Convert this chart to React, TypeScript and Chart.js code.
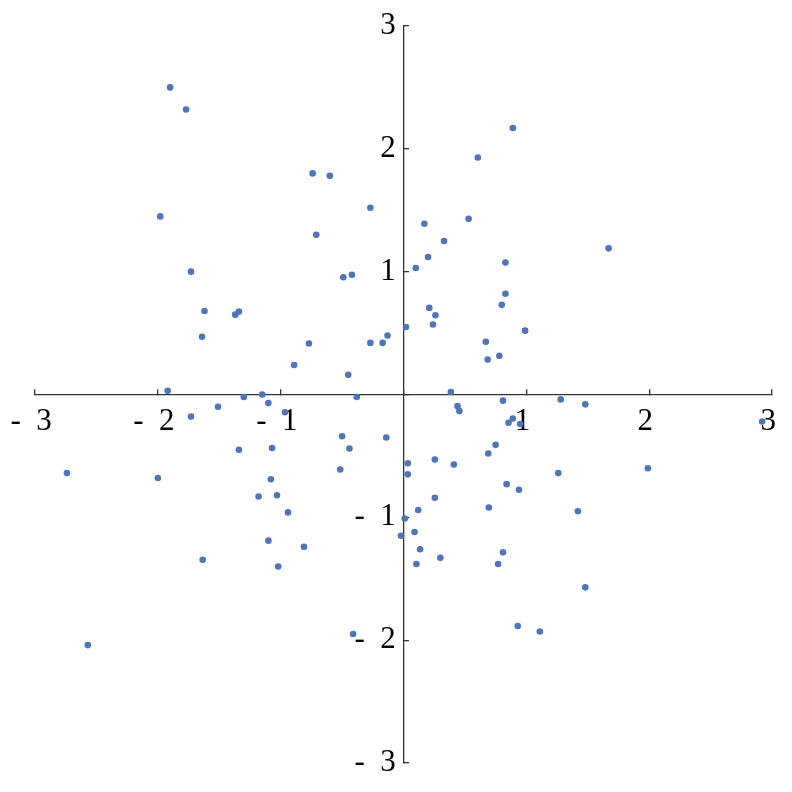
import React, { useRef, useEffect } from 'react';
import Chart from 'chart.js/auto';

// 점 좌표
const xValues = [
  -1.90, -1.77, -0.74, -0.60, -0.27, -1.98, -0.71, -1.73, -0.49, -0.42,
  -1.62, -1.37, -1.34, -1.64, -0.77, -0.27, -0.17, -0.13, -0.89, -0.45,
  -1.92, -1.30, -1.15, -0.38, -1.10, -1.51, -1.73, -0.965, -0.50, -0.14,
  -1.34, -1.07, -0.44, -0.515, -2.74, -2.00, -1.08, -1.18, -1.03, -0.94,
  -0.02, -1.10, -0.81, -1.635, -1.02, -0.41, -2.57, 0.89, 0.605, 0.53,
  0.17, 0.33, 0.20, 1.67, 0.10, 0.83, 0.83, 0.80, 0.21, 0.26,
  0.24, 0.02, 0.99, 0.67, 0.685, 0.78, 0.385, 0.81, 1.28, 1.48,
  0.44, 0.455, 0.89, 0.855, 0.95, 2.92, 0.75, 0.69, 0.035, 0.255,
  0.41, 1.99, 0.035, 1.26, 0.84, 0.94, 0.255, 1.42, 0.695, 0.12,
  0.01, 0.09, 0.135, 0.81, 0.30, 0.105, 0.77, 1.48, 0.93, 1.11,
];

const yValues = [
  2.50, 2.32, 1.80, 1.78, 1.52, 1.45, 1.30, 1.00, 0.955, 0.975,
  0.68, 0.65, 0.675, 0.47, 0.415, 0.42, 0.42, 0.48, 0.24, 0.16,
  0.03, -0.02, 0.0, -0.02, -0.07, -0.10, -0.18, -0.145, -0.34, -0.35,
  -0.45, -0.435, -0.44, -0.61, -0.64, -0.68, -0.69, -0.83, -0.82, -0.96,
  -1.15, -1.19, -1.24, -1.345, -1.40, -1.95, -2.04, 2.17, 1.93, 1.43,
  1.39, 1.25, 1.12, 1.19, 1.03, 1.075, 0.82, 0.73, 0.705, 0.645,
  0.57, 0.55, 0.52, 0.43, 0.285, 0.315, 0.02, -0.05, -0.04, -0.08,
  -0.095, -0.135, -0.195, -0.23, -0.24, -0.22, -0.41, -0.48, -0.56, -0.53,
  -0.57, -0.60, -0.65, -0.64, -0.73, -0.775, -0.84, -0.95, -0.92, -0.94,
  -1.01, -1.12, -1.26, -1.285, -1.33, -1.38, -1.38, -1.57, -1.885, -1.93,
];

const axisMin = -3;
const axisMax = 3;

// "- 3" 형식 (0은 표시 안 함), 뒤에 공백 하나 붙여서 살짝 왼쪽으로
const formatTick = (v: number) => (v === 0 ? '' : v < 0 ? `-  ${Math.abs(v)} ` : `${v} `);

const App: React.FC = () => {
  const canvasRef = useRef<HTMLCanvasElement>(null);
  const chartRef = useRef<Chart | null>(null);

  useEffect(() => {
    if (!canvasRef.current) return;
    if (chartRef.current) chartRef.current.destroy();

    const ctx = canvasRef.current.getContext('2d')!;
    const points = xValues.map((x, i) => ({ x, y: yValues[i] }));

    // 축이 레이아웃 공간을 차지하지 않게
    const noSpace = (scale: any) => {
      if (scale.isHorizontal()) scale.height = 0;
      else scale.width = 0;
      scale.paddingLeft = 0;
      scale.paddingRight = 0;
      scale.paddingTop = 0;
      scale.paddingBottom = 0;
    };

    const axisCommon = {
      type: 'linear' as const,
      min: axisMin,
      max: axisMax,
      afterFit: noSpace,
      border: { display: true, color: '#333333', width: 1.3 },
      grid: {
        drawOnChartArea: false,
        drawTicks: true,
        tickLength: -6,
        color: '#333333',
        lineWidth: 1.3,
      },
    };

    chartRef.current = new Chart(ctx, {
      type: 'scatter',
      data: {
        datasets: [
          {
            data: points,
            backgroundColor: '#4d75b8',
            borderColor: '#4d75b8',
            borderWidth: 0,
            pointRadius: 3.3,
          },
        ],
      },
      options: {
        animation: false,
        responsive: true,
        maintainAspectRatio: false,
        layout: { padding: { left: 35, right: 20, top: 26, bottom: 29 } },
        plugins: {
          legend: { display: false },
          tooltip: { enabled: false },
        },
        scales: {
          x: {
            ...axisCommon,
            position: { y: 0 },
            ticks: {
              stepSize: 1,
              padding: 15,
              color: '#000000',
              font: { family: 'Liberation Serif', size: 31 },
              callback: (v: any) => formatTick(Number(v)),
            },
          },
          y: {
            ...axisCommon,
            position: { x: 0 },
            ticks: {
              stepSize: 1,
              color: '#000000',
              font: { family: 'Liberation Serif', size: 31 },
              callback: (v: any) => formatTick(Number(v)),
            },
          },
        },
      },
    });

    return () => {
      if (chartRef.current) {
        chartRef.current.destroy();
        chartRef.current = null;
      }
    };
  }, []);

  return (
    <div style={{ position: 'absolute', left: 0, top: 0, width: '792px', height: '792px', background: '#ffffff' }}>
      <canvas ref={canvasRef} />
    </div>
  );
};

export default App;
